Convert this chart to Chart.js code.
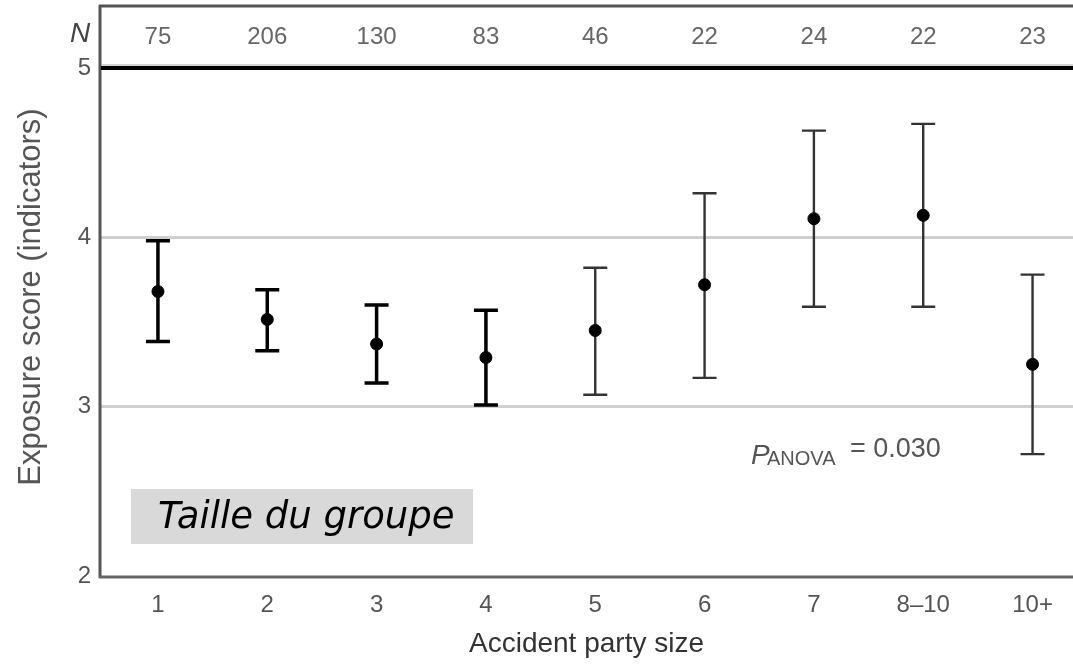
<!DOCTYPE html>
<html>
<head>
<meta charset="utf-8">
<script src="https://cdn.jsdelivr.net/npm/chart.js@4/dist/chart.umd.min.js"></script>
<style>
  html, body { margin: 0; padding: 0; background: #fff; overflow: hidden; }
  #wrap { width: 1073px; height: 665px; }
</style>
</head>
<body>
<div id="wrap"><canvas id="chart" width="1073" height="665"></canvas></div>
<script>
// data
const categories = ["1", "2", "3", "4", "5", "6", "7", "8\u201310", "10+"];
const counts = [75, 206, 130, 83, 46, 22, 24, 22, 23];
const means = [3.68, 3.515, 3.37, 3.29, 3.45, 3.72, 4.11, 4.13, 3.25];
const lower = [3.385, 3.33, 3.14, 3.01, 3.07, 3.17, 3.59, 3.59, 2.72];
const upper = [3.98, 3.69, 3.60, 3.57, 3.82, 4.26, 4.63, 4.67, 3.78];
const yTicks = [2, 3, 4, 5];

const points = means.map((m, i) => ({ x: i + 1, y: m }));

const font = "'Liberation Sans', Arial, sans-serif";

// error bars, frame and text labels
const extras = {
  id: "extras",
  beforeDatasetsDraw(chart) {
    const ctx = chart.ctx;
    const xs = chart.scales.x, ys = chart.scales.y;
    const area = chart.chartArea;
    ctx.save();
    // frame
    ctx.strokeStyle = "#555";
    ctx.lineWidth = 3;
    ctx.beginPath();
    ctx.moveTo(99, 6); ctx.lineTo(area.right, 6);
    ctx.moveTo(100, 5); ctx.lineTo(100, area.bottom + 2);
    ctx.stroke();
    ctx.strokeStyle = "#666";
    ctx.beginPath();
    ctx.moveTo(99, area.bottom + 1); ctx.lineTo(area.right, area.bottom + 1);
    ctx.stroke();
    // heavy line at 5
    const y5 = ys.getPixelForValue(5);
    ctx.strokeStyle = "#aaa";
    ctx.lineWidth = 1;
    ctx.beginPath(); ctx.moveTo(101, y5 - 3); ctx.lineTo(area.right, y5 - 3); ctx.stroke();
    ctx.strokeStyle = "#000";
    ctx.lineWidth = 4;
    ctx.beginPath(); ctx.moveTo(101, y5); ctx.lineTo(area.right, y5); ctx.stroke();

    // error bars
    means.forEach((m, i) => {
      const x = xs.getPixelForValue(i + 1);
      const yt = ys.getPixelForValue(upper[i]);
      const yb = ys.getPixelForValue(lower[i]);
      ctx.strokeStyle = i < 4 ? "#000" : "#333";
      ctx.lineWidth = i < 4 ? 3.5 : 2.4;
      ctx.beginPath();
      ctx.moveTo(x, yt); ctx.lineTo(x, yb);
      ctx.moveTo(x - 12, yt); ctx.lineTo(x + 12, yt);
      ctx.moveTo(x - 12, yb); ctx.lineTo(x + 12, yb);
      ctx.stroke();
    });

    // N row
    ctx.fillStyle = "#666";
    ctx.textAlign = "center";
    ctx.textBaseline = "middle";
    ctx.font = "24px " + font;
    counts.forEach((n, i) => {
      ctx.fillText(String(n), xs.getPixelForValue(i + 1), 37);
    });
    ctx.font = "italic 28px " + font;
    ctx.fillStyle = "#444";
    ctx.fillText("N", 80, 34);

    // axis titles
    ctx.fillStyle = "#333";
    ctx.font = "28px " + font;
    ctx.fillText("Accident party size", (area.left + area.right) / 2, 644);
    ctx.save();
    ctx.translate(31, 297);
    ctx.rotate(-Math.PI / 2);
    ctx.font = "31px " + font;
    ctx.fillStyle = "#555";
    ctx.fillText("Exposure score (indicators)", 0, 0);
    ctx.restore();

    // p value
    ctx.textAlign = "left";
    ctx.textBaseline = "alphabetic";
    ctx.fillStyle = "#555";
    ctx.font = "italic 28px " + font;
    ctx.fillText("P", 751, 464);
    ctx.font = "20px " + font;
    ctx.fillText("ANOVA", 767, 465);
    ctx.font = "27px " + font;
    ctx.fillText("= 0.030", 850, 457);

    // label box
    ctx.fillStyle = "#d9d9d9";
    ctx.fillRect(131, 489, 342, 55);
    ctx.fillStyle = "#000";
    ctx.font = "italic 37px 'DejaVu Sans', Verdana, sans-serif";
    ctx.fillText("Taille du groupe", 158, 528);
    ctx.restore();
  }
};

new Chart(document.getElementById("chart"), {
  type: "scatter",
  data: {
    datasets: [{
      data: points,
      backgroundColor: "#000",
      borderColor: "#000",
      pointRadius: 6,
      pointHoverRadius: 6
    }]
  },
  options: {
    responsive: false,
    animation: false,
    events: [],
    layout: { autoPadding: false, padding: { top: 68, right: 0, left: 0, bottom: 0 } },
    plugins: { legend: { display: false }, tooltip: { enabled: false } },
    scales: {
      x: {
        type: "linear",
        min: 0.47,
        max: 9.37,
        afterBuildTicks: s => { s.ticks = categories.map((c, i) => ({ value: i + 1 })); },
        afterFit: s => { s.height = 665 - 576; },
        grid: { display: false, drawTicks: false },
        border: { display: false },
        ticks: {
          callback: (v) => categories[v - 1],
          color: "#555",
          font: { size: 24, family: font },
          padding: 15,
          maxRotation: 0,
          autoSkip: false
        }
      },
      y: {
        min: 2,
        max: 5,
        afterBuildTicks: s => { s.ticks = yTicks.map(v => ({ value: v })); },
        afterFit: s => { s.width = 100; },
        grid: {
          drawTicks: false,
          lineWidth: 3,
          color: c => (c.tick && (c.tick.value === 3 || c.tick.value === 4)) ? "#cfcfcf" : "rgba(0,0,0,0)"
        },
        border: { display: false },
        ticks: {
          color: "#555",
          font: { size: 24, family: font },
          padding: 9
        }
      }
    }
  },
  plugins: [extras]
});
</script>
</body>
</html>
